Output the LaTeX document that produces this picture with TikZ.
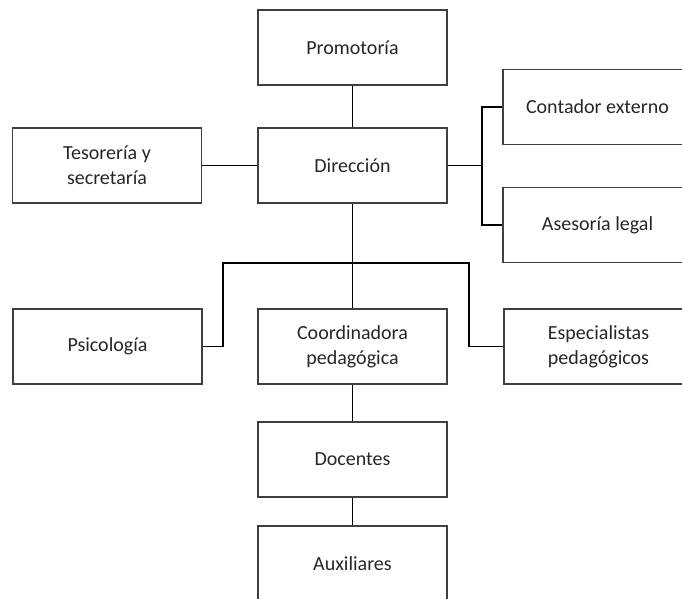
\documentclass[tikz,border=0pt]{standalone}
\usepackage{fontspec}
\setmainfont{Carlito}
\begin{document}
\begin{tikzpicture}[x=1pt,y=-1pt,
  unit/.style={draw=black!75, line width=1.2pt, rectangle, minimum width=189pt,
    minimum height=75pt, align=center, font=\fontsize{20}{25}\selectfont,
    text=black!85, inner sep=2pt},
  link/.style={draw=black, line width=1.5pt}]
\useasboundingbox (0,0) rectangle (682,598);
\clip (0,0) rectangle (682,598);

% org units
\node[unit] (prom)  at (352.5, 47.5)  {Promotoría};
\node[unit] (dir)   at (352.5, 165.5) {Dirección};
\node[unit] (tes)   at (107,   165.5) {Tesorería y\\secretaría};
\node[unit] (cont)  at (597.5, 107)   {Contador externo};
\node[unit] (ases)  at (597.5, 225)   {Asesoría legal};
\node[unit] (psic)  at (107.5, 346.5) {Psicología};
\node[unit] (coord) at (352.5, 346.5) {Coordinadora\\pedagógica};
\node[unit] (esp)   at (598.5, 346.5) {Especialistas\\pedagógicos};
\node[unit] (doc)   at (352.5, 459.5) {Docentes};
\node[unit] (aux)   at (352.5, 563.5) {Auxiliares};

% branch points
\coordinate (rb)  at (482, 165.5);
\coordinate (bl)  at (223, 263);
\coordinate (br)  at (469, 263);

% connectors
\draw[link] (prom.south) -- (dir.north);
\draw[link] (tes.east) -- (dir.west);
\draw[link] (dir.east) -- (rb);
\draw[link] (rb) |- (cont.west);
\draw[link] (rb) |- (ases.west);
\draw[link] (dir.south) -- (coord.north);
\draw[link] (psic.east) -| (bl) -- (br) |- (esp.west);
\draw[link] (coord.south) -- (doc.north);
\draw[link] (doc.south) -- (aux.north);
\end{tikzpicture}
\end{document}
